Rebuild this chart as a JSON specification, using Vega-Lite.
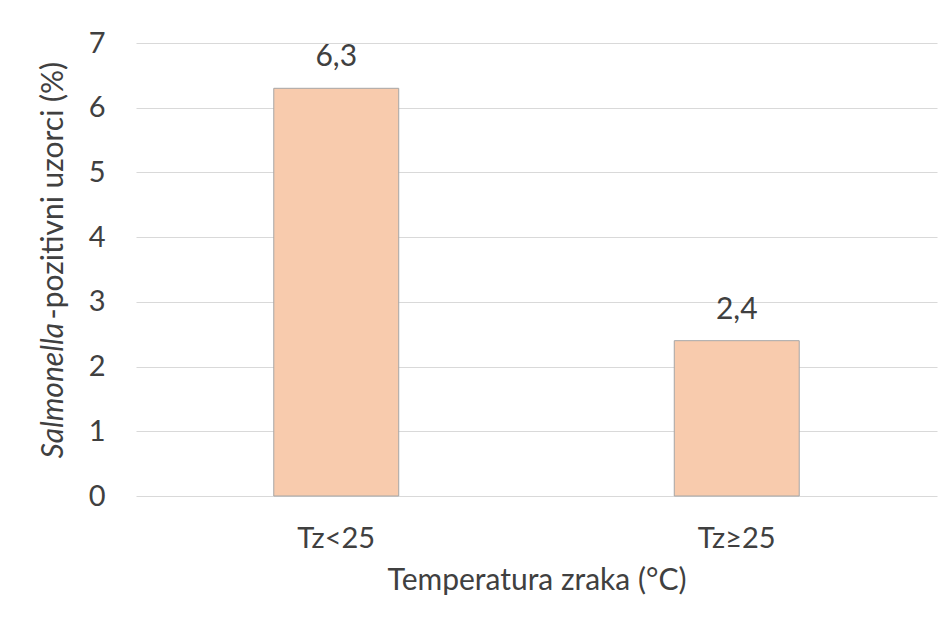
{
  "$schema": "https://vega.github.io/schema/vega-lite/v6.json",
  "width": 801,
  "height": 453,
  "autosize": {"type": "none"},
  "padding": {"left": 136, "top": 43, "right": 14, "bottom": 132},
  "background": "white",
  "config": {
    "view": {"stroke": null},
    "font": "Lato",
    "locale": {"number": {"decimal": ",", "thousands": ".", "grouping": [3], "currency": ["", " €"]}}
  },
  "data": {"values": [
    {"kategorija": "Tz<25", "postotak": 6.3},
    {"kategorija": "Tz≥25", "postotak": 2.4}
  ]},
  "encoding": {
    "x": {
      "field": "kategorija", "type": "nominal", "sort": null,
      "scale": {"paddingInner": 0.688, "paddingOuter": 0.344},
      "axis": {
        "title": "Temperatura zraka (°C)", "labelAngle": 0, "labelFontSize": 29, "labelColor": "#404040",
        "labelPadding": 28, "ticks": false, "domain": false,
        "titleFontSize": 30, "titleFontWeight": "normal", "titleColor": "#404040", "titlePadding": 12
      }
    }
  },
  "layer": [
    {"mark": {"type": "bar", "color": "#F8CBAD", "stroke": "#A6A6A6", "strokeWidth": 1},
     "encoding": {
       "y": {
        "field": "postotak", "type": "quantitative",
        "scale": {"domain": [0, 7]},
        "axis": {
          "orient": "left",
          "title": "Salmonella", "values": [0,1,2,3,4,5,6,7],
          "labelFontSize": 29, "labelColor": "#404040", "labelPadding": 31,
          "ticks": false, "domain": false, "gridColor": "#d9d9d9",
          "titleFontSize": 30, "titleFontWeight": "normal", "titleFontStyle": "italic", "titleColor": "#404040",
          "titleAlign": "left", "titleBaseline": "middle", "titleAngle": -90, "titleX": -83, "titleY": 415
        }
       }
     }},
    {"mark": {"type": "text", "dy": -31, "fontSize": 30, "color": "#404040", "baseline": "middle"},
     "encoding": {
       "y": {
        "field": "postotak", "type": "quantitative",
        "axis": {
          "orient": "left",
          "title": "-pozitivni uzorci (%)", "labels": false, "grid": false,
          "ticks": false, "domain": false,
          "titleFontSize": 30, "titleFontWeight": "normal", "titleColor": "#404040",
          "titleAlign": "left", "titleBaseline": "middle", "titleAngle": -90, "titleX": -83, "titleY": 276
        }
       },
       "text": {"field": "postotak", "type": "quantitative", "format": ".1f"}}}
  ],
  "resolve": {"axis": {"y": "independent"}}
}
